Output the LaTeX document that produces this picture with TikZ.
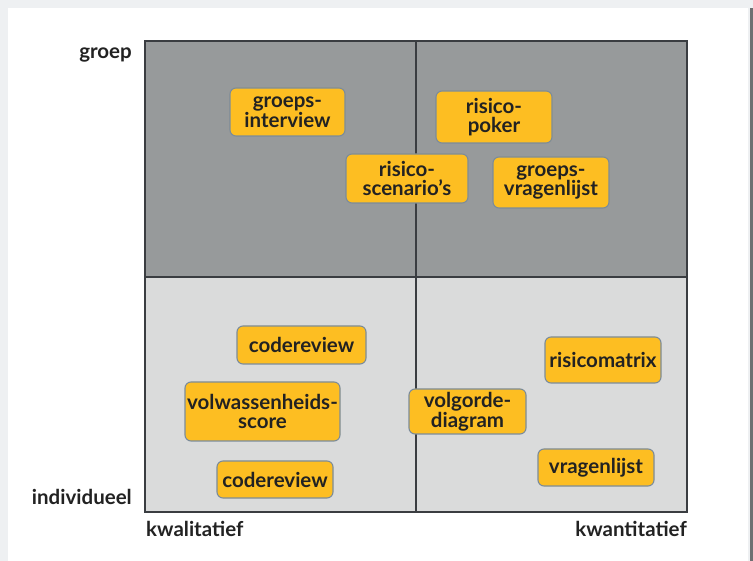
\documentclass[tikz,border=0pt]{standalone}
\usepackage{fontspec}
\setmainfont{Lato}
\definecolor{pagegray}{HTML}{EEF0F2}
\definecolor{edgedark}{HTML}{6E7072}
\definecolor{topgray}{HTML}{979A9B}
\definecolor{botgray}{HTML}{DADBDB}
\definecolor{gridcol}{HTML}{3A3D41}
\definecolor{boxfill}{HTML}{FDBE22}
\definecolor{boxline}{HTML}{7C8C99}
\definecolor{txt}{HTML}{222222}
\tikzset{
  box/.style={draw=boxline, line width=1.1pt, fill=boxfill, rounded corners=6pt,
    inner sep=0pt, align=center, text=txt,
    font=\bfseries\fontsize{20.5}{19.5}\selectfont},
  lbl/.style={inner sep=0pt, text=txt, font=\bfseries\fontsize{20.5}{19.5}\selectfont},
  gridline/.style={draw=gridcol, line width=2pt}
}
\begin{document}
\begin{tikzpicture}[x=1pt,y=-1pt]
\fill[pagegray] (0,0) rectangle (753,561);
\useasboundingbox (0,0) rectangle (753,561);
\fill[white] (8,8) rectangle (748,561);
\fill[edgedark] (750,8) rectangle (753,561);
% quadrants
\fill[topgray] (145,41) rectangle (687,277);
\fill[botgray] (145,277) rectangle (687,512);
\draw[gridline] (416,41) -- (416,512);
\draw[gridline] (145,277) -- (687,277);
\draw[gridline] (145,41) rectangle (687,512);
% axis labels
\node[lbl, anchor=base east] (groep) at (132,59) {groep};
\node[lbl, anchor=base east] (indiv) at (132,504) {individueel};
\node[lbl, anchor=base west] (kwal) at (146,536) {kwalitatief};
\node[lbl, anchor=base east] (kwan) at (687,536) {kwantitatief};
% boxes
\node[box, minimum width=115pt, minimum height=48pt] (gi) at (287.5,112) {groeps-\\interview};
\node[box, minimum width=116pt, minimum height=52pt] (rp) at (494,117) {risico-\\poker};
\node[box, minimum width=122pt, minimum height=49pt] (rs) at (407,178.5) {risico-\\scenario’s};
\node[box, minimum width=116pt, minimum height=51pt] (gv) at (551,182.5) {groeps-\\vragenlijst};
\node[box, minimum width=129pt, minimum height=38pt] (cr1) at (301.5,345) {codereview};
\node[box, minimum width=155pt, minimum height=59pt] (vs) at (262.5,411.5) {volwassenheids-\\score};
\node[box, minimum width=116pt, minimum height=37pt] (cr2) at (275,479.5) {codereview};
\node[box, minimum width=116pt, minimum height=46pt] (rm) at (603,360) {risicomatrix};
\node[box, minimum width=117pt, minimum height=45pt] (vd) at (467.5,411.5) {volgorde-\\diagram};
\node[box, minimum width=116pt, minimum height=37pt] (vl) at (596,467.5) {vragenlijst};
\end{tikzpicture}
\end{document}
